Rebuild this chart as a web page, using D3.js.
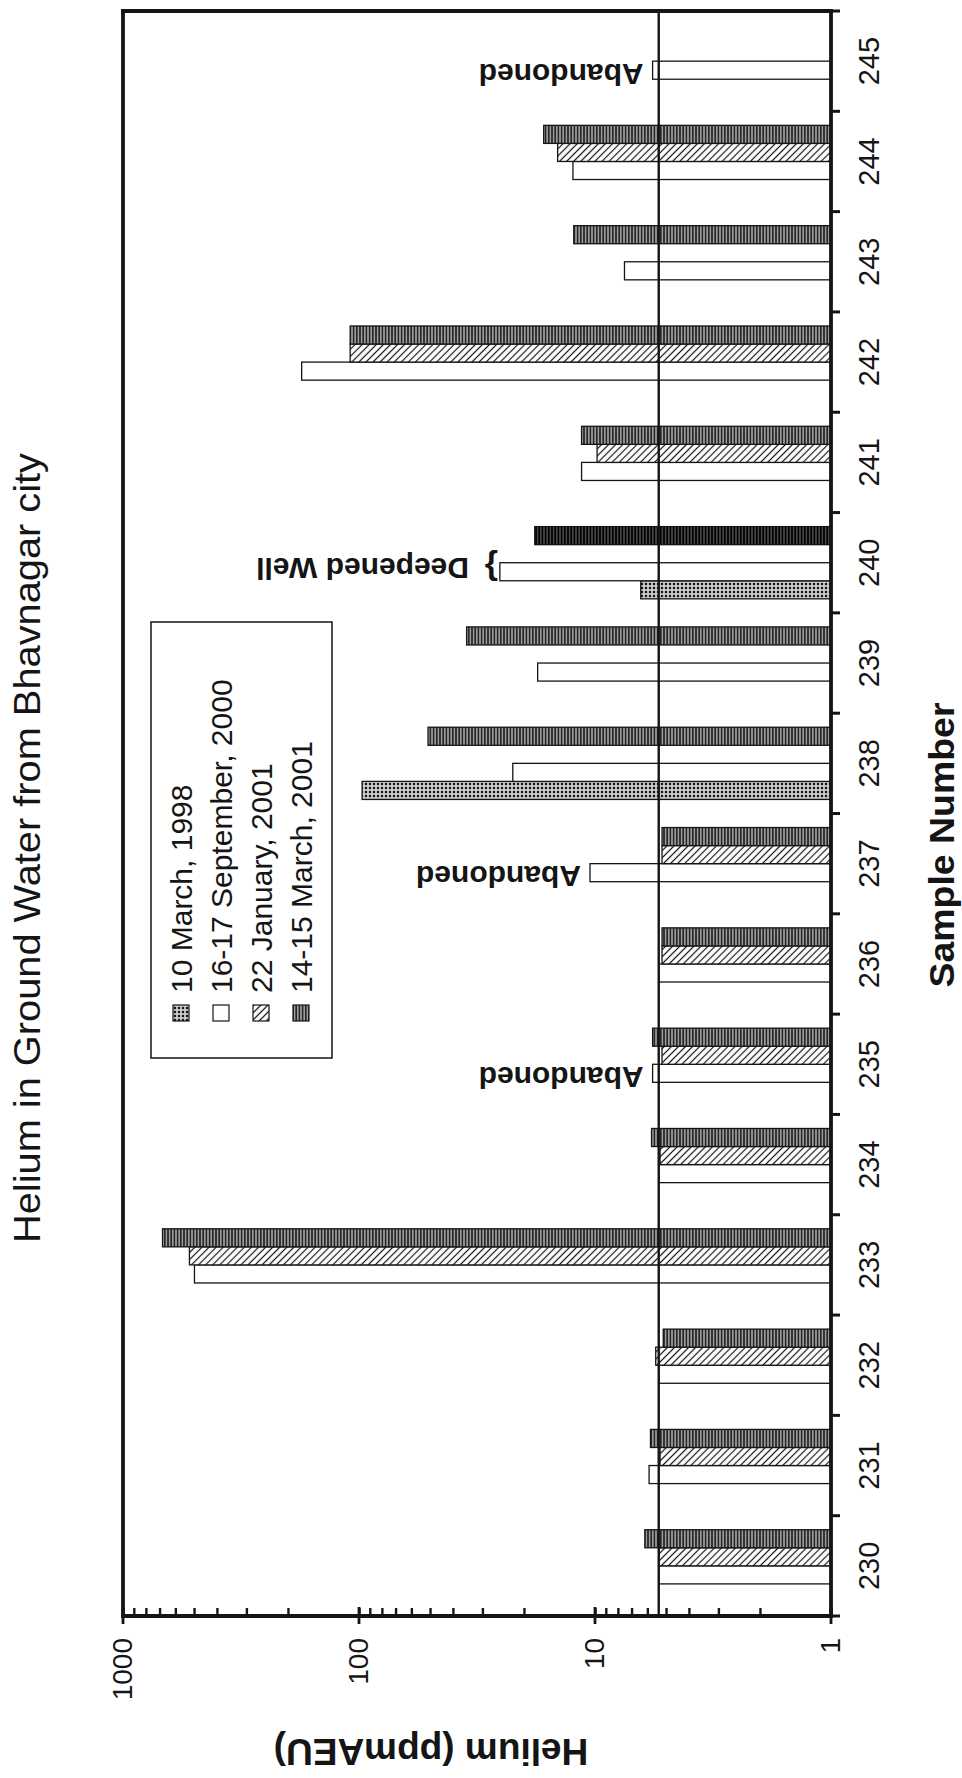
<!DOCTYPE html>
<html>
<head>
<meta charset="utf-8">
<script src="https://cdn.jsdelivr.net/npm/d3@7"></script>
<style>
  body { margin: 0; background: #fff; }
  svg { display: block; font-family: "Liberation Sans", Arial, sans-serif; }
</style>
</head>
<body>
<svg id="chart" width="962" height="1778"></svg>
<script>
// data (ppmAEU), null = no sample
const samples = [230, 231, 232, 233, 234, 235, 236, 237, 238, 239, 240, 241, 242, 243, 244, 245];
const seriesNames = ["10 March, 1998", "16-17 September, 2000", "22 January, 2001", "14-15 March, 2001"];
const heMar1998 = [null, null, null, null, null, null, null, null, 97, null, 6.4, null, null, null, null, null];
const heSep2000 = [5.37, 5.9, 5.37, 498, 5.37, 5.7, 5.37, 10.5, 22.3, 17.5, 25.3, 11.4, 175, 7.5, 12.4, 5.7];
const heJan2001 = [5.37, 5.3, 5.53, 523, 5.3, 5.2, 5.2, 5.2, null, null, null, 9.8, 109, null, 14.4, null];
const heMar2001 = [6.15, 5.82, 5.14, 680, 5.76, 5.7, 5.2, 5.2, 51, 35, 18, 11.4, 109, 12.3, 16.5, null];
const refLevel = 5.37;
const valueTicks = [1, 10, 100, 1000];
const valueTickLabels = ["1", "10", "100", "1000"];
const abandoned = [235, 237, 245];
const deepened = 240;

const allSeries = [heMar1998, heSep2000, heJan2001, heMar2001];

// chart is drawn upright in a 1778 x 962 box, then turned a quarter left
const W = 1778;
const margin = {top: 123, right: 11, bottom: 131, left: 162};
const ink = "#151515";

const svg = d3.select('#chart');
const defs = svg.append('defs');

const dots = defs.append('pattern').attr('id', 'dots')
  .attr('patternUnits', 'userSpaceOnUse').attr('width', 4).attr('height', 4);
dots.append('rect').attr('width', 4).attr('height', 4).attr('fill', '#cfcfcf');
dots.append('circle').attr('cx', 2).attr('cy', 2).attr('r', 1.3).attr('fill', ink);

const diag = defs.append('pattern').attr('id', 'diag')
  .attr('patternUnits', 'userSpaceOnUse').attr('width', 5).attr('height', 5)
  .attr('patternTransform', 'rotate(-45)');
diag.append('rect').attr('width', 5).attr('height', 5).attr('fill', '#fff');
diag.append('line').attr('x1', 2.5).attr('x2', 2.5).attr('y1', 0).attr('y2', 5)
  .attr('stroke', ink).attr('stroke-width', 1.2);

const vert = defs.append('pattern').attr('id', 'vert')
  .attr('patternUnits', 'userSpaceOnUse').attr('width', 12).attr('height', 3.2);
vert.append('rect').attr('width', 12).attr('height', 3.2).attr('fill', '#9c9c9c');
vert.append('line').attr('x1', 0).attr('x2', 12).attr('y1', 1.6).attr('y2', 1.6)
  .attr('stroke', ink).attr('stroke-width', 1.4);

const vertDark = defs.append('pattern').attr('id', 'vertDark')
  .attr('patternUnits', 'userSpaceOnUse').attr('width', 12).attr('height', 3.2);
vertDark.append('rect').attr('width', 12).attr('height', 3.2).attr('fill', '#4a4a4a');
vertDark.append('line').attr('x1', 0).attr('x2', 12).attr('y1', 1.6).attr('y2', 1.6)
  .attr('stroke', '#000').attr('stroke-width', 1.6);

const fills = ['url(#dots)', '#fff', 'url(#diag)', 'url(#vert)'];

const g = svg.append('g').attr('transform', `translate(0, ${W}) rotate(-90)`);

const x = d3.scaleBand()
  .domain(samples)
  .range([margin.left, W - margin.right])
  .padding(0);

const xSub = d3.scaleBand()
  .domain(d3.range(allSeries.length))
  .range([x.bandwidth() * 0.14, x.bandwidth() * 0.86]);

const y = d3.scaleLog()
  .domain([1, 1000])
  .range([962 - margin.bottom, margin.top]);

const table = [];
allSeries.forEach((vals, si) => vals.forEach((v, i) => {
  if (v != null) table.push({sample: samples[i], s: si, v: v});
}));

g.append('g')
  .selectAll('rect')
  .data(table)
  .join('rect')
    .attr('x', d => x(d.sample) + xSub(d.s))
    .attr('y', d => y(d.v))
    .attr('width', xSub.bandwidth())
    .attr('height', d => y(1) - y(d.v))
    .attr('fill', d => (d.sample === deepened && d.s === 3) ? 'url(#vertDark)' : fills[d.s])
    .attr('stroke', ink)
    .attr('stroke-width', 1.3);

// level line
g.append('line')
  .attr('x1', margin.left).attr('x2', W - margin.right)
  .attr('y1', y(refLevel)).attr('y2', y(refLevel))
  .attr('stroke', ink).attr('stroke-width', 2.4);

// value axis (log)
const yAxis = g.append('g')
  .attr('transform', `translate(${margin.left}, 0)`)
  .call(d3.axisLeft(y)
    .tickValues(y.ticks())
    .tickSize(-8)
    .tickPadding(22)
    .tickFormat(d => {
      const k = valueTicks.indexOf(d);
      return k < 0 ? '' : valueTickLabels[k];
    }));
yAxis.select('.domain').remove();
yAxis.attr('font-size', 28).attr('font-family', null);
yAxis.selectAll('.tick line').attr('stroke', ink).attr('stroke-width', 2.4);
yAxis.selectAll('.tick text').attr('fill', ink);

g.append('g')
  .selectAll('line')
  .data(valueTicks)
  .join('line')
    .attr('x1', margin.left - 8).attr('x2', margin.left + 9)
    .attr('y1', d => y(d)).attr('y2', d => y(d))
    .attr('stroke', ink).attr('stroke-width', 2.8);

// sample axis
const xAxis = g.append('g')
  .attr('transform', `translate(0, ${y(1)})`)
  .call(d3.axisBottom(x).tickSize(0).tickPadding(27));
xAxis.select('.domain').remove();
xAxis.attr('font-size', 29).attr('font-family', null);
xAxis.selectAll('.tick text').attr('fill', ink);

g.append('g')
  .selectAll('line')
  .data(samples.map(s => x(s)).concat([W - margin.right]))
  .join('line')
    .attr('x1', d => d).attr('x2', d => d)
    .attr('y1', y(1)).attr('y2', y(1) + 9)
    .attr('stroke', ink).attr('stroke-width', 3);

// frame
const frame = [
  [margin.left, y(1000), margin.left, y(1)],
  [margin.left, y(1), W - margin.right, y(1)],
  [W - margin.right, y(1000), W - margin.right, y(1)],
  [margin.left, y(1000), W - margin.right, y(1000)]
];
g.append('g')
  .selectAll('line')
  .data(frame)
  .join('line')
    .attr('x1', d => d[0]).attr('y1', d => d[1])
    .attr('x2', d => d[2]).attr('y2', d => d[3])
    .attr('stroke', ink).attr('stroke-width', 3.8)
    .attr('stroke-linecap', 'square');

// legend
const legend = g.append('g').attr('transform', 'translate(720, 151)');
legend.append('rect')
  .attr('width', 436).attr('height', 181)
  .attr('fill', '#fff').attr('stroke', ink).attr('stroke-width', 1.5);
const item = legend.selectAll('g.item')
  .data(seriesNames)
  .join('g')
    .attr('class', 'item')
    .attr('transform', (d, i) => `translate(0, ${30 + i * 40})`);
item.append('rect')
  .attr('x', 37).attr('y', -8).attr('width', 16).attr('height', 16)
  .attr('fill', (d, i) => fills[i]).attr('stroke', ink).attr('stroke-width', 1.2);
item.append('text')
  .attr('x', 65).attr('dy', '0.35em')
  .attr('font-size', 30).attr('fill', ink)
  .text(d => d);

// annotations
g.append('g')
  .selectAll('text')
  .data(abandoned)
  .join('text')
    .attr('transform', s => {
      const i = samples.indexOf(s);
      const cx = x(s) + xSub(1) + xSub.bandwidth() / 2 - 4;
      return `translate(${cx}, ${y(heSep2000[i]) - 9}) rotate(-90)`;
    })
    .attr('dy', '0.35em')
    .attr('font-size', 30).attr('font-weight', 'bold').attr('fill', ink)
    .text('Abandoned');

const dCx = x(deepened) + xSub(1) + xSub.bandwidth() / 2 + 3;
g.append('text')
  .attr('transform', `translate(${dCx}, 498) rotate(-90)`)
  .attr('dy', '0.35em')
  .attr('font-size', 34).attr('font-weight', 'bold').attr('fill', ink)
  .text('}');
g.append('text')
  .attr('transform', `translate(${dCx}, 469) rotate(-90)`)
  .attr('dy', '0.35em')
  .attr('font-size', 30).attr('font-weight', 'bold').attr('fill', ink)
  .text('Deepened Well');

// titles
g.append('text')
  .attr('x', 930).attr('y', 40)
  .attr('text-anchor', 'middle')
  .attr('font-size', 36).attr('fill', ink)
  .attr('textLength', 790).attr('lengthAdjust', 'spacingAndGlyphs')
  .text('Helium in Ground Water from Bhavnagar city');

g.append('text')
  .attr('transform', 'translate(26, 431) rotate(-90)')
  .attr('text-anchor', 'middle').attr('dy', '0.35em')
  .attr('font-size', 37).attr('font-weight', 'bold').attr('fill', ink)
  .text('Helium (ppmAEU)');

g.append('text')
  .attr('x', 933).attr('y', 954)
  .attr('text-anchor', 'middle')
  .attr('font-size', 35).attr('font-weight', 'bold').attr('fill', ink)
  .attr('textLength', 285).attr('lengthAdjust', 'spacingAndGlyphs')
  .text('Sample Number');
</script>
</body>
</html>
